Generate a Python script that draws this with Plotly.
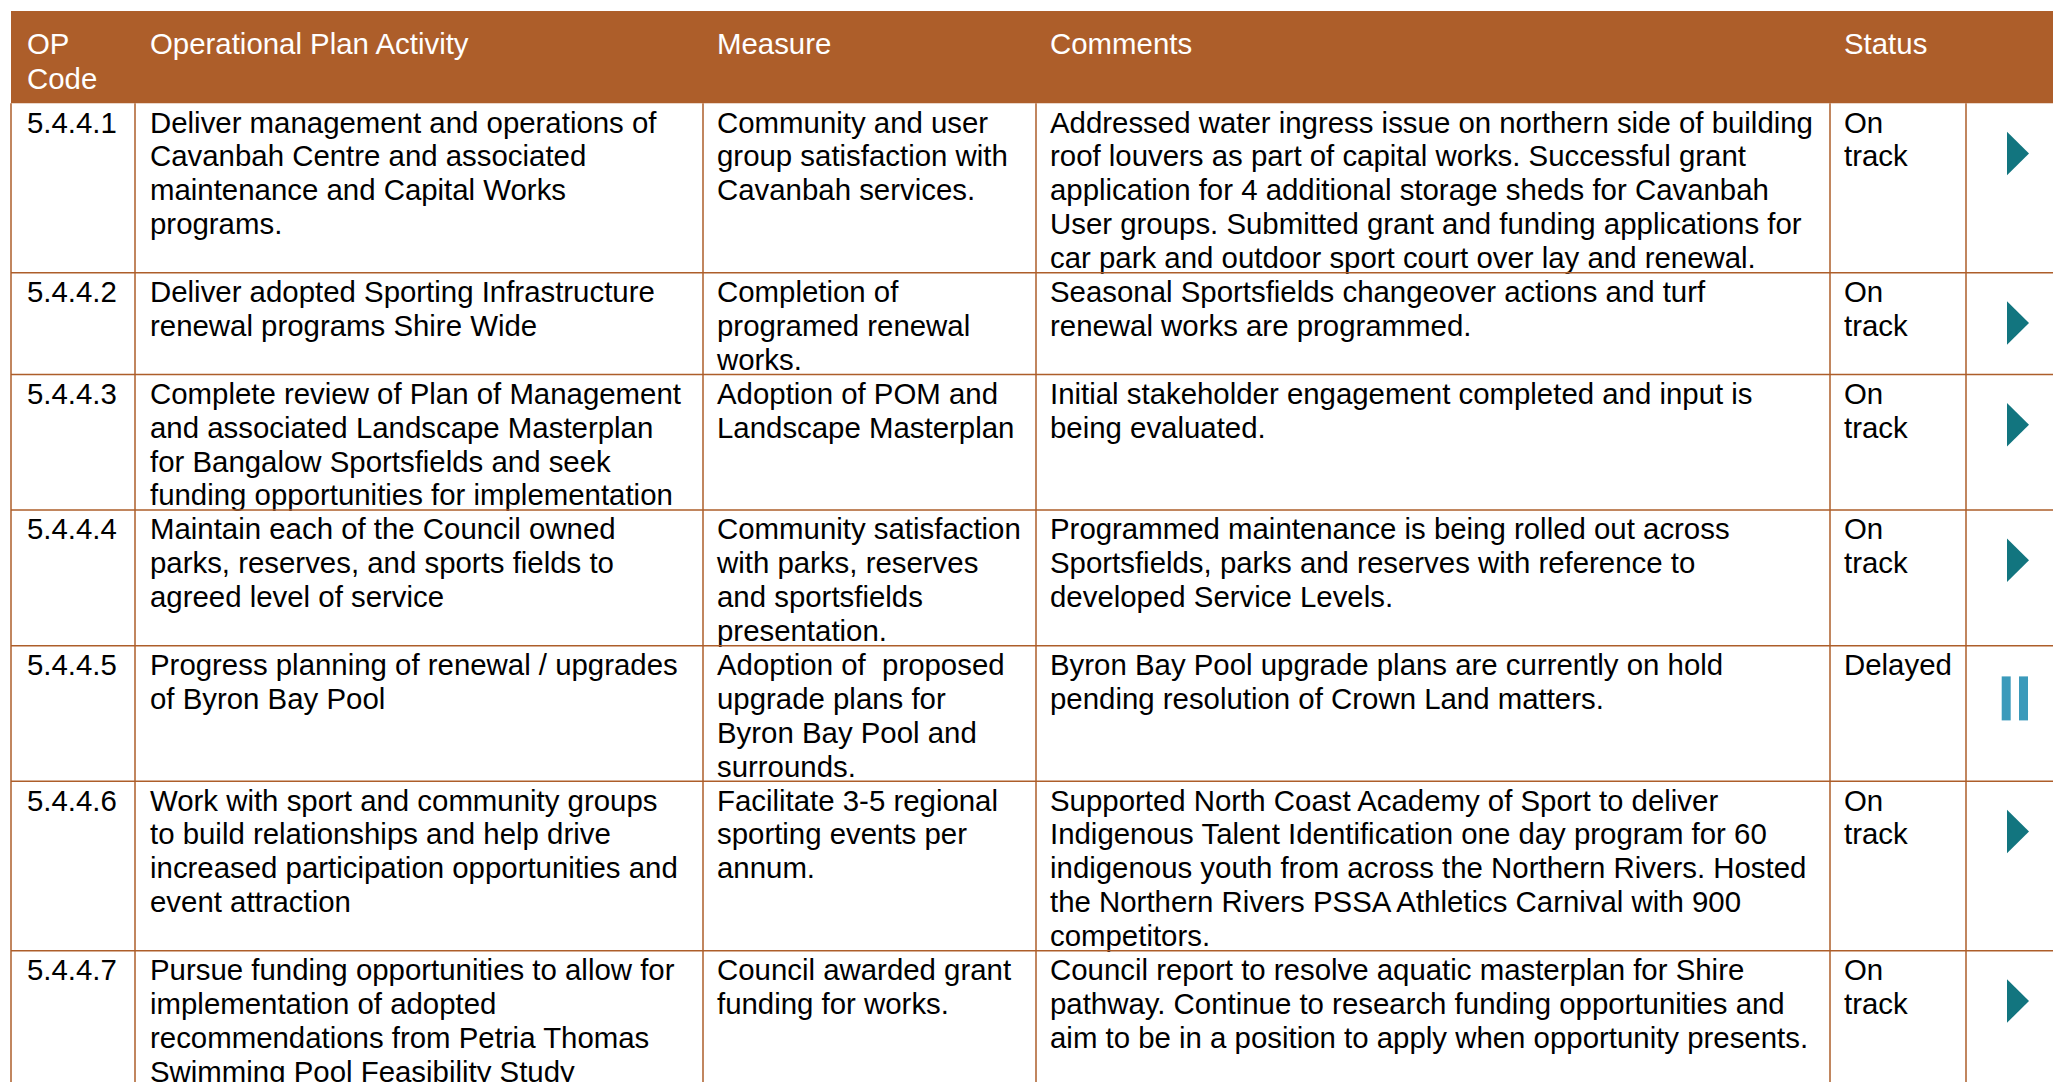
import plotly.graph_objects as go

# ---------------- data (as printed in the table) ----------------
headers = ["OP\nCode", "Operational Plan Activity", "Measure", "Comments", "Status", ""]

op_codes = ["5.4.4.1", "5.4.4.2", "5.4.4.3", "5.4.4.4", "5.4.4.5", "5.4.4.6", "5.4.4.7"]

activities = [
    "Deliver management and operations of\nCavanbah Centre and associated\nmaintenance and Capital Works\nprograms.",
    "Deliver adopted Sporting Infrastructure\nrenewal programs Shire Wide",
    "Complete review of Plan of Management\nand associated Landscape Masterplan\nfor Bangalow Sportsfields and seek\nfunding opportunities for implementation",
    "Maintain each of the Council owned\nparks, reserves, and sports fields to\nagreed level of service",
    "Progress planning of renewal / upgrades\nof Byron Bay Pool",
    "Work with sport and community groups\nto build relationships and help drive\nincreased participation opportunities and\nevent attraction",
    "Pursue funding opportunities to allow for\nimplementation of adopted\nrecommendations from Petria Thomas\nSwimming Pool Feasibility Study",
]

measures = [
    "Community and user\ngroup satisfaction with\nCavanbah services.",
    "Completion of\nprogramed renewal\nworks.",
    "Adoption of POM and\nLandscape Masterplan",
    "Community satisfaction\nwith parks, reserves\nand sportsfields\npresentation.",
    "Adoption of  proposed\nupgrade plans for\nByron Bay Pool and\nsurrounds.",
    "Facilitate 3-5 regional\nsporting events per\nannum.",
    "Council awarded grant\nfunding for works.",
]

comments = [
    "Addressed water ingress issue on northern side of building\nroof louvers as part of capital works. Successful grant\napplication for 4 additional storage sheds for Cavanbah\nUser groups. Submitted grant and funding applications for\ncar park and outdoor sport court over lay and renewal.",
    "Seasonal Sportsfields changeover actions and turf\nrenewal works are programmed.",
    "Initial stakeholder engagement completed and input is\nbeing evaluated.",
    "Programmed maintenance is being rolled out across\nSportsfields, parks and reserves with reference to\ndeveloped Service Levels.",
    "Byron Bay Pool upgrade plans are currently on hold\npending resolution of Crown Land matters.",
    "Supported North Coast Academy of Sport to deliver\nIndigenous Talent Identification one day program for 60\nindigenous youth from across the Northern Rivers. Hosted\nthe Northern Rivers PSSA Athletics Carnival with 900\ncompetitors.",
    "Council report to resolve aquatic masterplan for Shire\npathway. Continue to research funding opportunities and\naim to be in a position to apply when opportunity presents.",
]

statuses = ["On\ntrack", "On\ntrack", "On\ntrack", "On\ntrack", "Delayed", "On\ntrack", "On\ntrack"]
status_icons = ["play", "play", "play", "play", "pause", "play", "play"]

# ---------------- layout / style ----------------
W, H = 2053, 1082
BROWN = "#AD5E2A"
TEAL = "#12757F"
LIGHTBLUE = "#3B9ABB"
FONT = "Liberation Sans, Arial, sans-serif"
FS = 29.4
LINE_H = 33.9
col_edges = [11, 135, 703, 1036, 1830, 1966, 2080]
text_pad = [16, 15, 14, 14, 14, 0]
header_top, header_bottom = 11, 103.3
header_baseline = 54.5
body_first_baseline = 29.3

columns = [op_codes, activities, measures, comments, statuses]

# row extents from number of text lines
row_tops, row_bottoms = [], []
y = header_bottom
for i in range(len(op_codes)):
    n = max(len(col[i].split("\n")) for col in columns)
    row_tops.append(y)
    y += n * LINE_H
    row_bottoms.append(y)

def baseline_to_y(b):
    # scatter text 'middle right': baseline sits 0.25*fontsize below point
    return b - 0.25 * FS

# header text points
hx, hy, ht = [], [], []
for c, h in enumerate(headers):
    for k, line in enumerate(h.split("\n")):
        if not line:
            continue
        hx.append(col_edges[c] + text_pad[c])
        hy.append(baseline_to_y(header_baseline + k * 35))
        ht.append(line)

# body text points
bx, by, bt = [], [], []
for c, col in enumerate(columns):
    for i, cell in enumerate(col):
        for k, line in enumerate(cell.split("\n")):
            bx.append(col_edges[c] + text_pad[c])
            by.append(baseline_to_y(row_tops[i] + body_first_baseline + k * LINE_H))
            bt.append(line)

fig = go.Figure()

shapes = []
# header band
shapes.append(dict(type="rect", xref="x", yref="y", x0=col_edges[0], x1=col_edges[-1],
                   y0=header_top, y1=header_bottom, fillcolor=BROWN, line=dict(width=0), layer="below"))
# horizontal row lines
for yb in row_bottoms:
    shapes.append(dict(type="line", xref="x", yref="y", x0=col_edges[0], x1=col_edges[-1],
                       y0=yb, y1=yb, line=dict(color=BROWN, width=1.5)))
# vertical column lines
for xe in col_edges[:-1]:
    shapes.append(dict(type="line", xref="x", yref="y", x0=xe, x1=xe,
                       y0=header_bottom, y1=H + 40, line=dict(color=BROWN, width=1.5)))

# status icons
icon_left = col_edges[5]
for i, icon in enumerate(status_icons):
    top = row_tops[i]
    if icon == "play":
        x0, x1 = icon_left + 41, icon_left + 63
        y0, y1 = top + 28.4, top + 72
        ym = (y0 + y1) / 2
        shapes.append(dict(type="path", xref="x", yref="y",
                           path=f"M {x0},{y0} L {x1},{ym} L {x0},{y1} Z",
                           fillcolor=TEAL, line=dict(width=0)))
    else:
        for bx0 in (35.7, 53.0):
            shapes.append(dict(type="rect", xref="x", yref="y",
                               x0=icon_left + bx0, x1=icon_left + bx0 + 9,
                               y0=top + 30.7, y1=top + 74.7,
                               fillcolor=LIGHTBLUE, line=dict(width=0)))

fig.add_trace(go.Scatter(x=hx, y=hy, text=ht, mode="text", textposition="middle right",
                         textfont=dict(family=FONT, size=FS, color="white"),
                         hoverinfo="skip", showlegend=False, cliponaxis=False))
fig.add_trace(go.Scatter(x=bx, y=by, text=bt, mode="text", textposition="middle right",
                         textfont=dict(family=FONT, size=FS, color="black"),
                         hoverinfo="skip", showlegend=False, cliponaxis=False))

fig.update_layout(
    width=W, height=H,
    margin=dict(l=0, r=0, t=0, b=0),
    paper_bgcolor="white", plot_bgcolor="white",
    shapes=shapes,
    xaxis=dict(range=[0, W], visible=False, fixedrange=True),
    yaxis=dict(range=[H, 0], visible=False, fixedrange=True),
)

fig.write_html("out.html",
               config={"displayModeBar": False, "staticPlot": True},
               post_script="document.body.style.margin='0';document.body.style.overflow='hidden';")
